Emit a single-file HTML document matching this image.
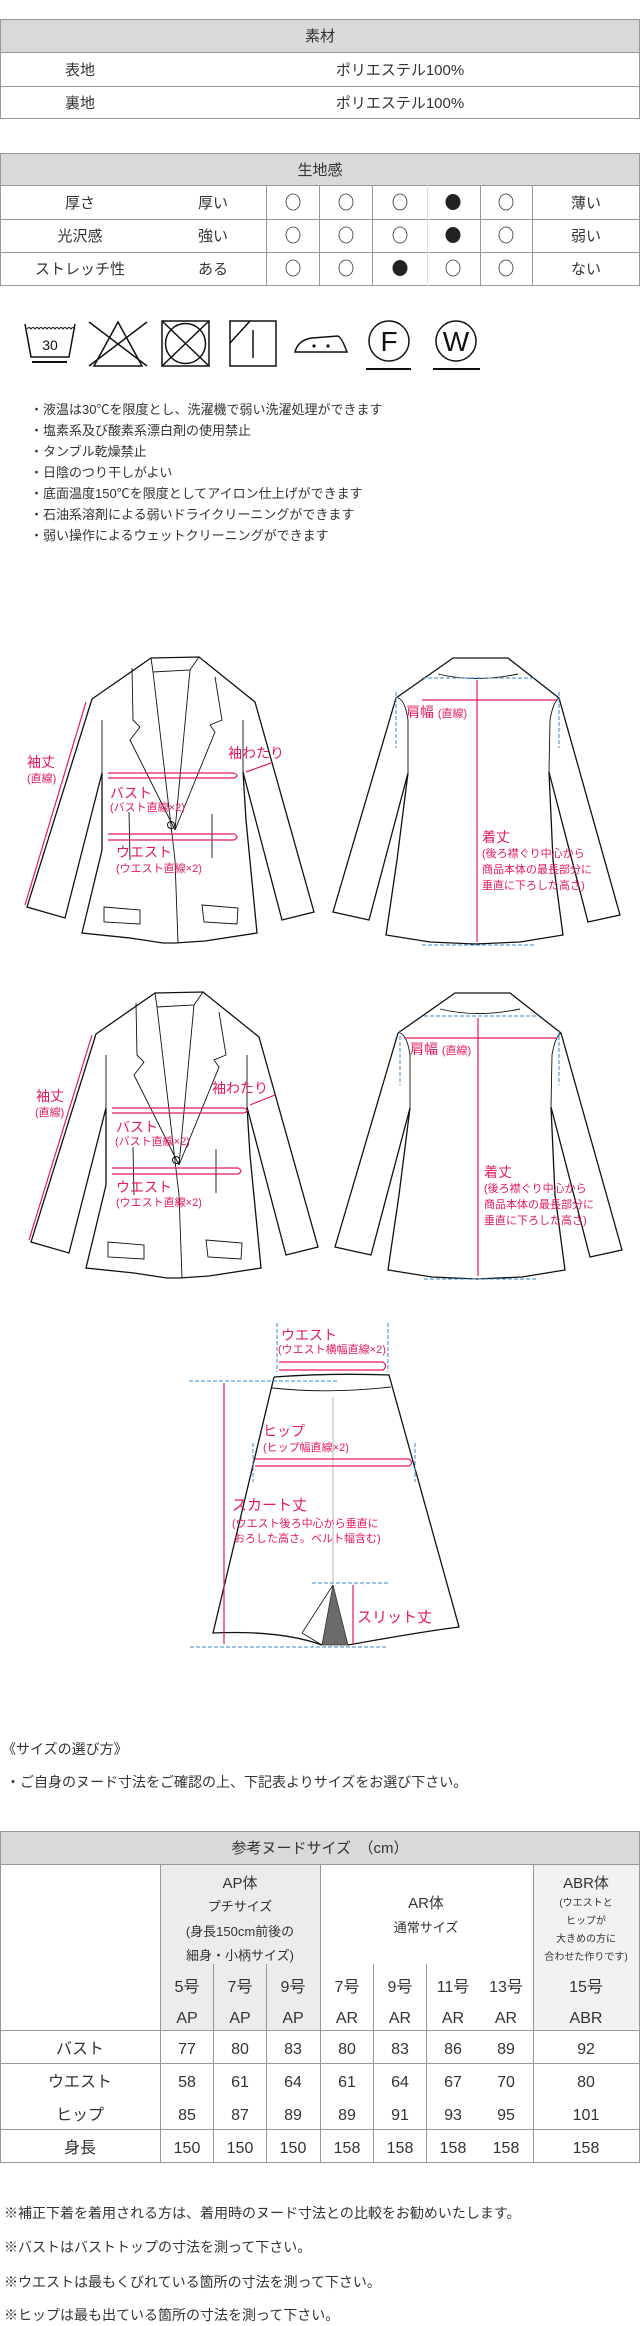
<!DOCTYPE html>
<html><head><meta charset="utf-8">
<style>
*{margin:0;padding:0;box-sizing:border-box}
body{width:640px;height:2326px;background:#fff;position:relative;overflow:hidden;font-family:"Liberation Sans","Noto Sans CJK JP",sans-serif;color:#333}
.a{position:absolute;white-space:nowrap}
</style></head><body>
<svg class="a" style="left:0;top:0" width="640" height="2326" viewBox="0 0 640 2326" xmlns="http://www.w3.org/2000/svg" font-family="Liberation Sans, Noto Sans CJK JP, sans-serif">
<rect x="0" y="19" width="640" height="33" fill="#d9d9d9"/>
<g stroke="#999" stroke-width="1" fill="none">
<rect x="0.5" y="19.5" width="639" height="99"/>
<line x1="0" y1="52.5" x2="640" y2="52.5"/><line x1="0" y1="86.5" x2="640" y2="86.5"/>
</g>
<g font-size="15" fill="#333" text-anchor="middle">
<text x="320" y="41">素材</text>
<text x="80" y="75">表地</text><text x="400" y="75">ポリエステル100%</text>
<text x="80" y="108">裏地</text><text x="400" y="108">ポリエステル100%</text>
</g>
<rect x="0" y="153" width="640" height="32" fill="#d9d9d9"/>
<g stroke="#999" stroke-width="1" fill="none">
<rect x="0.5" y="153.5" width="639" height="132"/>
<line x1="0" y1="185.5" x2="640" y2="185.5"/><line x1="0" y1="219.5" x2="640" y2="219.5"/><line x1="0" y1="252.5" x2="640" y2="252.5"/>
<line x1="266.5" y1="185" x2="266.5" y2="286"/><line x1="319.5" y1="185" x2="319.5" y2="286"/><line x1="372.5" y1="185" x2="372.5" y2="286"/><line x1="427.5" y1="185" x2="427.5" y2="286" stroke="#ddd"/><line x1="480.5" y1="185" x2="480.5" y2="286"/><line x1="532.5" y1="185" x2="532.5" y2="286"/>
</g>
<g font-size="15" fill="#333" text-anchor="middle">
<text x="320" y="175">生地感</text>
<text x="80" y="208">厚さ</text><text x="213" y="208">厚い</text><text x="586" y="208">薄い</text>
<text x="80" y="241">光沢感</text><text x="213" y="241">強い</text><text x="586" y="241">弱い</text>
<text x="80" y="274">ストレッチ性</text><text x="213" y="274">ある</text><text x="586" y="274">ない</text>
</g>
<g stroke="#333" stroke-width="0.8" fill="none">
<ellipse cx="293" cy="202" rx="7" ry="8"/><ellipse cx="346" cy="202" rx="7" ry="8"/><ellipse cx="400" cy="202" rx="7" ry="8"/><ellipse cx="506" cy="202" rx="7" ry="8"/>
<ellipse cx="293" cy="235" rx="7" ry="8"/><ellipse cx="346" cy="235" rx="7" ry="8"/><ellipse cx="400" cy="235" rx="7" ry="8"/><ellipse cx="506" cy="235" rx="7" ry="8"/>
<ellipse cx="293" cy="268" rx="7" ry="8"/><ellipse cx="346" cy="268" rx="7" ry="8"/><ellipse cx="453" cy="268" rx="7" ry="8"/><ellipse cx="506" cy="268" rx="7" ry="8"/>
</g>
<g fill="#222"><ellipse cx="453" cy="202" rx="7.5" ry="8"/><ellipse cx="453" cy="235" rx="7.5" ry="8"/><ellipse cx="400" cy="268" rx="7.5" ry="8"/></g>
<g stroke="#111" stroke-width="1.5" fill="none">
<path d="M25 324 L31 357 L69 357 L75 324"/>
<path d="M27 329 q2 -3 4 0 q2 -3 4 0 q2 -3 4 0 q2 -3 4 0 q2 -3 4 0 q2 -3 4 0 q2 -3 4 0 q2 -3 4 0 q2 -3 4 0 q2 -3 4 0 q2 -3 4 0 q2 -3 4 0" stroke-width="1"/>
<line x1="32" y1="362" x2="67" y2="362" stroke-width="2"/>
<path d="M94 366 L118 322 L142 366 Z"/>
<line x1="89" y1="322" x2="147" y2="366"/><line x1="147" y1="322" x2="89" y2="366"/>
<rect x="162" y="321" width="47" height="45"/>
<circle cx="185.5" cy="343.5" r="20"/>
<line x1="162" y1="321" x2="209" y2="366"/><line x1="209" y1="321" x2="162" y2="366"/>
<rect x="230" y="321" width="46" height="45"/>
<line x1="230" y1="343" x2="250" y2="321"/><line x1="253" y1="330" x2="253" y2="358"/>
<path d="M295 352 Q298 340 312 338 L338 336 Q342 338 347 352 Z"/>
<circle cx="389" cy="341" r="20"/><line x1="366" y1="369" x2="411" y2="369" stroke-width="2"/>
<circle cx="456" cy="341" r="20"/><line x1="433" y1="369" x2="480" y2="369" stroke-width="2"/>
</g>
<text x="50" y="350" font-size="14" text-anchor="middle" fill="#111">30</text>
<circle cx="314" cy="346" r="1.6" fill="#111"/><circle cx="328" cy="346" r="1.6" fill="#111"/>
<text x="389" y="351" font-size="28" text-anchor="middle" fill="#111">F</text>
<text x="456" y="351" font-size="28" text-anchor="middle" fill="#111">W</text>
<g font-size="13" fill="#333">
<text x="30" y="414">・液温は30℃を限度とし、洗濯機で弱い洗濯処理ができます</text>
<text x="30" y="435">・塩素系及び酸素系漂白剤の使用禁止</text>
<text x="30" y="456">・タンブル乾燥禁止</text>
<text x="30" y="477">・日陰のつり干しがよい</text>
<text x="30" y="498">・底面温度150℃を限度としてアイロン仕上げができます</text>
<text x="30" y="519">・石油系溶剤による弱いドライクリーニングができます</text>
<text x="30" y="540">・弱い操作によるウェットクリーニングができます</text>
</g>
<defs>
<g id="jf">
<path d="M92 699 L151 658 L199 657 L255 702 L314 912 L282 920 L243 772 L246 820 L257 933 L205 941 L175 943 L163 943 L130 938 L82 933 L102 850 L102 773 L65 918 L27 907 L92 699" fill="none" stroke="#111" stroke-width="1.3"/>
<path d="M151 658 L153 672 L190 670 L199 657 M153 672 L175 860 L178 943 M190 670 L175 830 M132 668 L133 720 L140 727 L130 740 L175 830 M215 677 L222 720 L210 725 L215 732 L175 830 M243 720 L243 772 M102 720 L102 773 M129 812 L130 860 M212 814 L212 858" fill="none" stroke="#111" stroke-width="0.9"/>
<path d="M104 907 L104 922 L140 924 L140 910 Z M202 905 L238 908 L237 924 L204 922 Z" fill="none" stroke="#111" stroke-width="0.9"/>
</g>
<g id="jb">
<path d="M396 698 L453 658 L508 658 L559 698 L620 915 L588 922 L549 772 L553 860 L563 935 L520 942 L475 944 L430 942 L386 935 L397 860 L408 773 L369 920 L333 912 L396 698" fill="none" stroke="#111" stroke-width="1.3"/>
<path d="M438 674 Q475 683 518 674 M408 773 L408 720 Q405 700 398 698 M549 772 L550 720 Q553 702 559 698" fill="none" stroke="#111" stroke-width="0.9"/>
</g>
</defs>
<use href="#jf"/><use href="#jb"/>
<use href="#jf" transform="translate(4,335)"/><use href="#jb" transform="translate(2,335)"/>
<g stroke="#e5195e" stroke-width="1.2" fill="none">
<line x1="86" y1="702" x2="25" y2="905"/>
<path d="M108 773 L234 773 Q240 775.5 234 778 L108 778"/>
<path d="M108 834 L234 834 Q240 837 234 840 L108 840"/>
<line x1="246" y1="772" x2="271" y2="763"/>
<line x1="422" y1="700" x2="557" y2="700"/>
<line x1="477" y1="680" x2="477" y2="942"/>
</g>
<g stroke="#e5195e" stroke-width="1.2" fill="none" transform="translate(4,335)">
<line x1="88" y1="700" x2="25" y2="905"/>
<path d="M108 773 L240 773 Q246 775.5 240 778 L108 778"/>
<path d="M108 833 L234 833 Q240 836 234 839 L108 839"/>
<line x1="246" y1="770" x2="271" y2="760"/>
</g>
<g stroke="#e5195e" stroke-width="1.2" fill="none">
<line x1="404" y1="1038" x2="557" y2="1038"/>
<line x1="478" y1="1018" x2="478" y2="1276"/>
</g>
<g stroke="#3b88c9" stroke-width="1" stroke-dasharray="4,2" fill="none">
<line x1="422" y1="678" x2="535" y2="678"/><line x1="422" y1="945" x2="535" y2="945"/>
<line x1="396" y1="692" x2="396" y2="748"/><line x1="559" y1="692" x2="559" y2="748"/>
<line x1="424" y1="1016" x2="536" y2="1016"/><line x1="424" y1="1279" x2="536" y2="1279"/>
<line x1="400" y1="1030" x2="400" y2="1085"/><line x1="559" y1="1030" x2="559" y2="1085"/>
</g>
<circle cx="171" cy="825" r="3.5" fill="none" stroke="#111"/>
<circle cx="176" cy="1160" r="3.5" fill="none" stroke="#111"/>
<g fill="#e5195e" font-size="14">
<text x="27" y="767">袖丈</text><text x="27" y="782" font-size="11">(直線)</text>
<text x="228" y="758">袖わたり</text>
<text x="110" y="798">バスト</text><text x="110" y="811" font-size="11">(バスト直線×2)</text>
<text x="116" y="857">ウエスト</text><text x="116" y="872" font-size="11">(ウエスト直線×2)</text>
<text x="406" y="717">肩幅 <tspan font-size="11">(直線)</tspan></text>
<text x="482" y="842">着丈</text>
<g font-size="11"><text x="482" y="857">(後ろ襟ぐり中心から</text><text x="482" y="873">商品本体の最長部分に</text><text x="482" y="889">垂直に下ろした高さ)</text></g>
<text x="36" y="1101">袖丈</text><text x="35" y="1116" font-size="11">(直線)</text>
<text x="212" y="1093">袖わたり</text>
<text x="116" y="1132">バスト</text><text x="115" y="1145" font-size="11">(バスト直線×2)</text>
<text x="116" y="1192">ウエスト</text><text x="116" y="1206" font-size="11">(ウエスト直線×2)</text>
<text x="410" y="1054">肩幅 <tspan font-size="11">(直線)</tspan></text>
<text x="484" y="1177">着丈</text>
<g font-size="11"><text x="484" y="1192">(後ろ襟ぐり中心から</text><text x="484" y="1208">商品本体の最長部分に</text><text x="484" y="1224">垂直に下ろした高さ)</text></g>
</g>
<path d="M333 1585 L322 1645 L348 1645 Z" fill="#6b6b6b" stroke="#333" stroke-width="0.8"/>
<path d="M333 1585 L302 1633 L322 1645" fill="none" stroke="#111" stroke-width="0.8"/>
<path d="M274 1377 Q330 1373 389 1375 L459 1627 Q420 1632 348 1645 M322 1645 Q280 1630 213 1633 L274 1377" fill="none" stroke="#111" stroke-width="1.3"/>
<path d="M272 1388 Q330 1394 391 1387" fill="none" stroke="#111" stroke-width="0.9"/>
<line x1="333" y1="1397" x2="333" y2="1583" stroke="#999" stroke-width="0.7"/>
<g stroke="#3b88c9" stroke-width="1" stroke-dasharray="4,2" fill="none">
<line x1="277" y1="1323" x2="277" y2="1372"/><line x1="388" y1="1323" x2="388" y2="1372"/>
<line x1="189" y1="1381" x2="337" y2="1381"/>
<line x1="253" y1="1443" x2="253" y2="1482"/><line x1="415" y1="1443" x2="415" y2="1482"/>
<line x1="190" y1="1647" x2="388" y2="1647"/>
<line x1="312" y1="1583" x2="388" y2="1583"/>
</g>
<g stroke="#e5195e" stroke-width="1.2" fill="none">
<path d="M279 1362 L383 1362 Q388 1366 383 1370 L279 1370"/>
<path d="M255 1459 L409 1459 Q414 1462.5 409 1466 L255 1466"/>
<line x1="224" y1="1383" x2="224" y2="1644"/>
<line x1="353" y1="1585" x2="353" y2="1644"/>
</g>
<g fill="#e5195e" font-size="14">
<text x="281" y="1340">ウエスト</text><text x="278" y="1353" font-size="11">(ウエスト横幅直線×2)</text>
<text x="263" y="1436">ヒップ</text><text x="263" y="1451" font-size="11">(ヒップ幅直線×2)</text>
<text x="232" y="1510" font-size="15">スカート丈</text>
<text x="232" y="1527" font-size="11">(ウエスト後ろ中心から垂直に</text><text x="234" y="1542" font-size="11">おろした高さ。ベルト幅含む)</text>
<text x="357" y="1622" font-size="15">スリット丈</text>
</g>
<g font-size="14" fill="#333">
<text x="2" y="1754">《サイズの選び方》</text>
<text x="6" y="1787">・ご自身のヌード寸法をご確認の上、下記表よりサイズをお選び下さい。</text>
</g>
<rect x="0" y="1831" width="640" height="33" fill="#d9d9d9"/>
<rect x="160" y="1864" width="160" height="166" fill="#ececec"/>
<rect x="533" y="1864" width="107" height="166" fill="#f2f2f2"/>
<g stroke="#999" stroke-width="1" fill="none">
<rect x="0.5" y="1831.5" width="639" height="331"/>
<line x1="0" y1="1864.5" x2="640" y2="1864.5"/>
<line x1="0" y1="2030.5" x2="640" y2="2030.5"/><line x1="0" y1="2063.5" x2="640" y2="2063.5"/><line x1="0" y1="2129.5" x2="640" y2="2129.5"/>
<line x1="160.5" y1="1864" x2="160.5" y2="2163"/><line x1="320.5" y1="1864" x2="320.5" y2="2163"/><line x1="533.5" y1="1864" x2="533.5" y2="2163"/>
<line x1="213.5" y1="1964" x2="213.5" y2="2163"/><line x1="266.5" y1="1964" x2="266.5" y2="2163"/><line x1="373.5" y1="1964" x2="373.5" y2="2163"/><line x1="426.5" y1="1964" x2="426.5" y2="2163"/>
</g>
<g font-size="15" fill="#333" text-anchor="middle">
<text x="320" y="1853">参考ヌードサイズ　（cm）</text>
<text x="240" y="1888">AP体</text>
<text x="240" y="1911" font-size="13">プチサイズ</text>
<text x="240" y="1936" font-size="13">(身長150cm前後の</text>
<text x="240" y="1960" font-size="13">細身・小柄サイズ)</text>
<text x="426" y="1908">AR体</text>
<text x="426" y="1932" font-size="13">通常サイズ</text>
<text x="586" y="1888">ABR体</text>
<g font-size="10"><text x="586" y="1906">(ウエストと</text><text x="586" y="1924">ヒップが</text><text x="586" y="1942">大きめの方に</text><text x="586" y="1960">合わせた作りです)</text></g>
<g font-size="16">
<text x="187" y="1992">5号</text><text x="240" y="1992">7号</text><text x="293" y="1992">9号</text><text x="347" y="1992">7号</text><text x="400" y="1992">9号</text><text x="453" y="1992">11号</text><text x="506" y="1992">13号</text><text x="586" y="1992">15号</text>
<text x="187" y="2023">AP</text><text x="240" y="2023">AP</text><text x="293" y="2023">AP</text><text x="347" y="2023">AR</text><text x="400" y="2023">AR</text><text x="453" y="2023">AR</text><text x="506" y="2023">AR</text><text x="586" y="2023">ABR</text>
<text x="80" y="2054">バスト</text><text x="187" y="2054">77</text><text x="240" y="2054">80</text><text x="293" y="2054">83</text><text x="347" y="2054">80</text><text x="400" y="2054">83</text><text x="453" y="2054">86</text><text x="506" y="2054">89</text><text x="586" y="2054">92</text>
<text x="80" y="2087">ウエスト</text><text x="187" y="2087">58</text><text x="240" y="2087">61</text><text x="293" y="2087">64</text><text x="347" y="2087">61</text><text x="400" y="2087">64</text><text x="453" y="2087">67</text><text x="506" y="2087">70</text><text x="586" y="2087">80</text>
<text x="80" y="2120">ヒップ</text><text x="187" y="2120">85</text><text x="240" y="2120">87</text><text x="293" y="2120">89</text><text x="347" y="2120">89</text><text x="400" y="2120">91</text><text x="453" y="2120">93</text><text x="506" y="2120">95</text><text x="586" y="2120">101</text>
<text x="80" y="2153">身長</text><text x="187" y="2153">150</text><text x="240" y="2153">150</text><text x="293" y="2153">150</text><text x="347" y="2153">158</text><text x="400" y="2153">158</text><text x="453" y="2153">158</text><text x="506" y="2153">158</text><text x="586" y="2153">158</text>
</g>
</g>
<g font-size="14" fill="#333">
<text x="4" y="2218">※補正下着を着用される方は、着用時のヌード寸法との比較をお勧めいたします。</text>
<text x="4" y="2252">※バストはバストトップの寸法を測って下さい。</text>
<text x="4" y="2287">※ウエストは最もくびれている箇所の寸法を測って下さい。</text>
<text x="4" y="2320">※ヒップは最も出ている箇所の寸法を測って下さい。</text>
</g>
</svg>
</body></html>
